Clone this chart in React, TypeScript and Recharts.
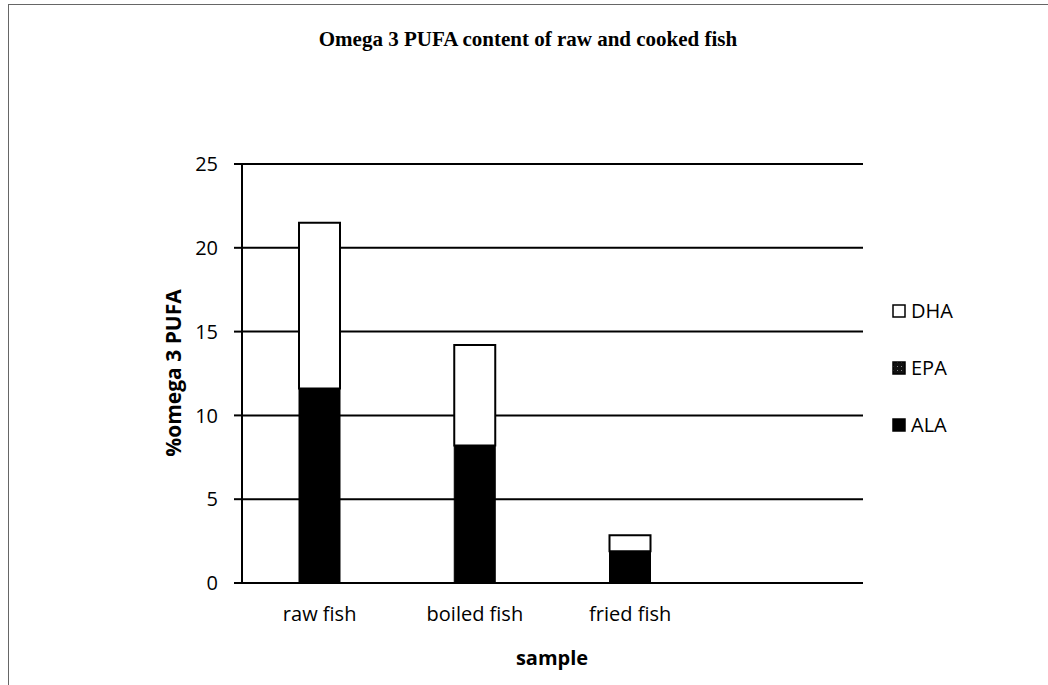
import { BarChart, Bar, XAxis, YAxis, CartesianGrid } from "recharts";

const samples = ["raw fish", "boiled fish", "fried fish", ""];
const ala = [11.6, 8.2, 1.9];
const epa = [0, 0, 0];
const dha = [9.9, 6.0, 0.95];
const yTicks = [0, 5, 10, 15, 20, 25];

const data = samples.map((sample, i) => ({
  sample,
  ALA: ala[i],
  EPA: epa[i],
  DHA: dha[i],
}));

const font = "'Open Sans', 'Liberation Sans', sans-serif";

const legendItems = [
  { name: "DHA", fill: "#ffffff" },
  { name: "EPA", fill: "url(#epaLegend)" },
  { name: "ALA", fill: "#000000" },
];

const ChartLegend = () => (
  <div
    style={{
      position: "absolute",
      left: 892,
      top: 282,
      fontFamily: font,
      fontSize: 20,
      color: "#000",
    }}
  >
    {legendItems.map((item) => (
      <div
        key={item.name}
        style={{ display: "flex", alignItems: "center", height: 57 }}
      >
        <svg width={14} height={14} style={{ marginRight: 5 }}>
          <defs>
            <pattern id="epaLegend" width={4} height={4} patternUnits="userSpaceOnUse">
              <rect width={4} height={4} fill="#111" />
              <rect x={1} y={1} width={1} height={1} fill="#888" />
            </pattern>
          </defs>
          <rect x={1} y={1} width={12} height={12} fill={item.fill} stroke="#000" strokeWidth={1.5} />
        </svg>
        <span>{item.name}</span>
      </div>
    ))}
  </div>
);

export default function App() {
  return (
    <div
      style={{
        position: "absolute",
        left: 0,
        top: 0,
        width: 1048,
        height: 685,
        background: "#fff",
        fontFamily: font,
      }}
    >
      <div
        style={{
          position: "absolute",
          left: 8,
          top: 4,
          right: 0,
          bottom: 0,
          borderTop: "1px solid #666",
          borderLeft: "1px solid #666",
        }}
      />
      <div
        style={{
          position: "absolute",
          left: 8,
          width: 1040,
          top: 27,
          textAlign: "center",
          fontFamily: "'Liberation Serif', 'DejaVu Serif', serif",
          fontWeight: "bold",
          fontSize: 21,
          color: "#000",
        }}
      >
        Omega 3 PUFA content of raw and cooked fish
      </div>
      <div
        style={{
          position: "absolute",
          left: 173,
          top: 373,
          transform: "translate(-50%, -50%) rotate(-90deg)",
          whiteSpace: "nowrap",
          fontWeight: "bold",
          fontSize: 21,
          color: "#000",
        }}
      >
        %omega 3 PUFA
      </div>
      <div
        style={{
          position: "absolute",
          left: 552,
          top: 657,
          transform: "translate(-50%, -50%)",
          fontWeight: "bold",
          fontSize: 20,
          color: "#000",
        }}
      >
        sample
      </div>
      <BarChart
        width={1048}
        height={685}
        data={data}
        margin={{ top: 164, right: 185, bottom: 42, left: 150 }}
        barSize={41}
        style={{ position: "absolute", left: 0, top: 0 }}
      >
        <defs>
          <pattern id="epaFill" width={4} height={4} patternUnits="userSpaceOnUse">
            <rect width={4} height={4} fill="#111" />
            <rect x={1} y={1} width={1} height={1} fill="#888" />
          </pattern>
        </defs>
        <CartesianGrid vertical={false} stroke="#000" strokeWidth={2} />
        <XAxis
          dataKey="sample"
          height={60}
          tickLine={false}
          tickSize={0}
          tickMargin={24}
          axisLine={{ stroke: "#000", strokeWidth: 2 }}
          tick={{ fill: "#000", fontSize: 20 }}
          interval={0}
        />
        <YAxis
          width={92}
          domain={[0, 25]}
          ticks={yTicks}
          tickSize={8}
          tickMargin={16}
          axisLine={{ stroke: "#000", strokeWidth: 2 }}
          tickLine={{ stroke: "#000", strokeWidth: 2 }}
          tick={{ fill: "#000", fontSize: 20 }}
        />
        <Bar dataKey="ALA" stackId="a" fill="#000" stroke="#000" strokeWidth={1} isAnimationActive={false} />
        <Bar dataKey="EPA" stackId="a" fill="url(#epaFill)" stroke="#000" strokeWidth={1} isAnimationActive={false} />
        <Bar dataKey="DHA" stackId="a" fill="#fff" stroke="#000" strokeWidth={2} isAnimationActive={false} />
      </BarChart>
      <ChartLegend />
    </div>
  );
}
